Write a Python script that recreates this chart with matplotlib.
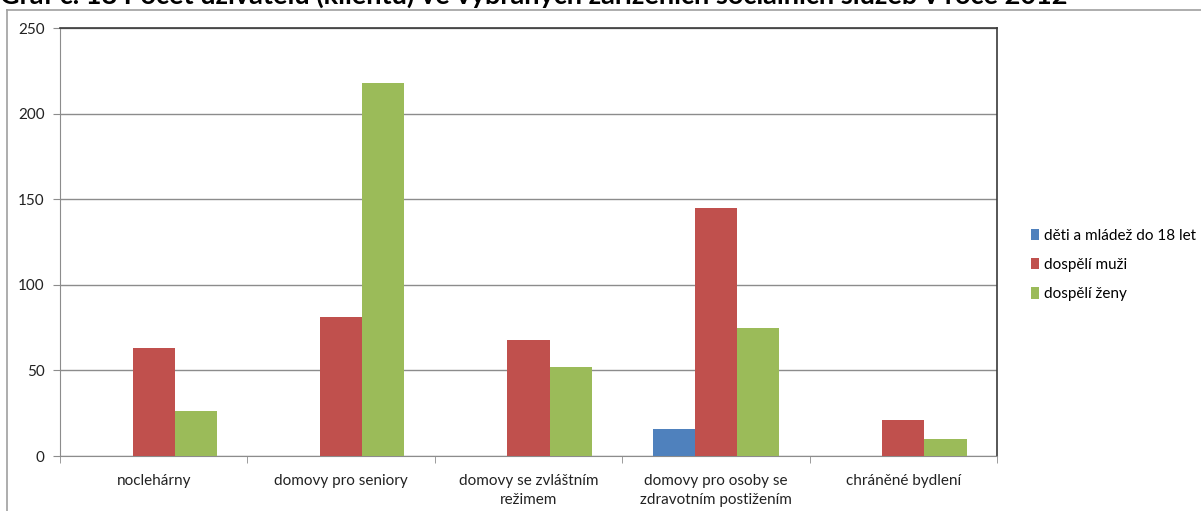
import numpy as np
import matplotlib.pyplot as plt
from matplotlib.lines import Line2D

plt.rcParams['font.family'] = ['Lato', 'DejaVu Sans']

# Data
categories = ["noclehárny", "domovy pro seniory", "domovy se zvláštním\nrežimem",
              "domovy pro osoby se\nzdravotním postižením", "chráněné bydlení"]
series_names = ["děti a mládež do 18 let", "dospělí muži", "dospělí ženy"]
deti = [0, 0, 0, 16, 0]
muzi = [63, 81, 68, 145, 21]
zeny = [26, 218, 52, 75, 10]
colors = ["#4F81BD", "#C0504D", "#9BBB59"]
title = "Graf č. 18 Počet uživatelů (klientů) ve vybraných zařízeních sociálních služeb v roce 2012"

W, H = 1201, 511
fig = plt.figure(figsize=(W / 100, H / 100), dpi=100)
ax = fig.add_axes([60 / W, 1 - 456 / H, (997 - 60) / W, (456 - 28) / H])

x = np.arange(len(categories))
bw = 0.225
for i, (vals, name) in enumerate(zip([deti, muzi, zeny], series_names)):
    ax.bar(x + (i - 1) * bw, vals, bw, color=colors[i], label=name, zorder=3)

ax.set_xlim(-0.5, len(categories) - 0.5)
ax.set_ylim(0, 250)
ax.set_yticks(range(0, 251, 50))
ax.grid(axis='y', color='#8C8C8C', linewidth=1, zorder=0)

ax.set_xticks(x)
ax.set_xticklabels(categories, fontsize=11, color='#222222', linespacing=1.45)
ax.set_xticks(np.arange(len(categories) + 1) - 0.5, minor=True)
ax.tick_params(axis='x', which='major', length=0, pad=13)
ax.tick_params(axis='x', which='minor', length=5, color='#8C8C8C', direction='out')
ax.tick_params(axis='y', length=5, color='#8C8C8C', labelsize=11, labelcolor='#222222', pad=6)

for s in ['left', 'bottom']:
    ax.spines[s].set_color('#8C8C8C')
for s in ['top', 'right']:
    ax.spines[s].set_color('#3A3A3A')
    ax.spines[s].set_linewidth(1.2)

ax.legend(loc='center left', bbox_to_anchor=(1017 / W, 1 - 265 / H), bbox_transform=fig.transFigure,
          frameon=False, fontsize=11, handlelength=0.55, handleheight=0.75, handletextpad=0.3,
          labelspacing=1.0)

# outer chart frame (partially visible)
fig.add_artist(Line2D([7 / W, 7 / W], [0, 1 - 10 / H], color='#A0A0A0', linewidth=1.2))
fig.add_artist(Line2D([7 / W, 1], [1 - 10 / H, 1 - 10 / H], color='#A0A0A0', linewidth=1.2))

# title cut off at the top edge, as in the source chart
fig.text(0.0, 1 - 4 / H, title, fontsize=19.5, fontweight='bold', ha='left', va='baseline')

fig.savefig("out.png", dpi=100)
